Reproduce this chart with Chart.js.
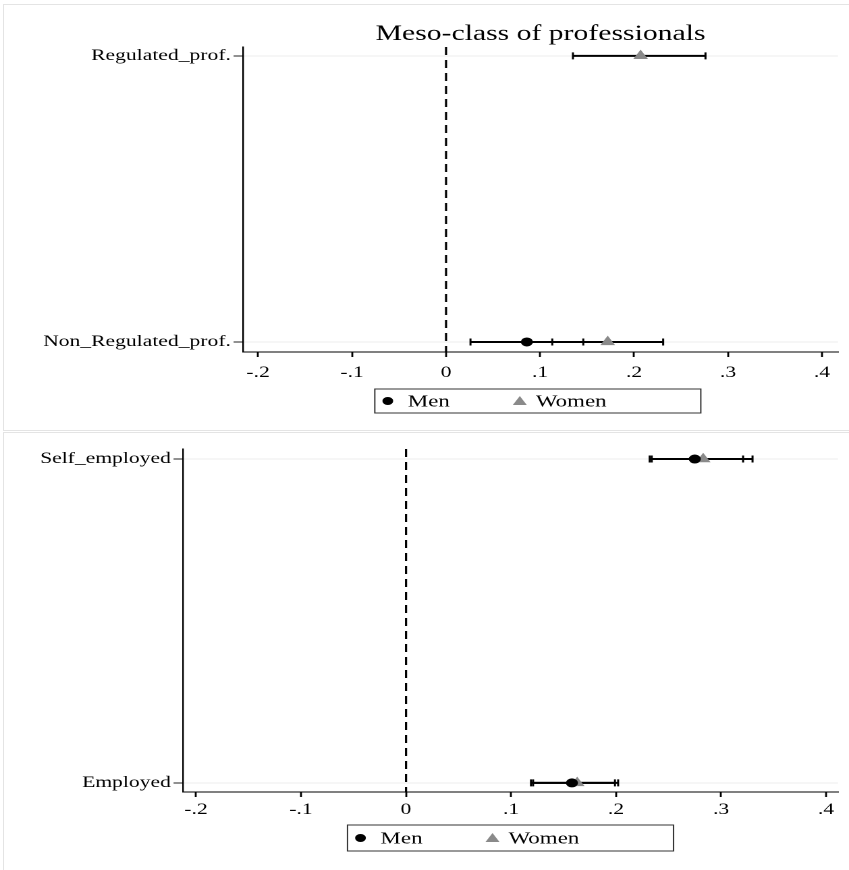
<!DOCTYPE html>
<html>
<head>
<meta charset="utf-8">
<title>Meso-class of professionals</title>
<script src="https://cdn.jsdelivr.net/npm/chart.js@4.4.1/dist/chart.umd.min.js"></script>
<style>
  html, body { margin: 0; padding: 0; background: #fff; }
  body { width: 849px; height: 870px; position: relative; overflow: hidden; }
  .frame { position: absolute; border: 1px solid #e4e4e4; box-sizing: border-box; }
  .stretch { position: absolute; left: 0; transform-origin: 0 0; }
</style>
</head>
<body>
<div class="frame" style="left:3px; top:4px; width:870px; height:427px;"></div>
<div class="frame" style="left:3px; top:432px; width:870px; height:460px;"></div>
<div class="stretch" id="wrapMeso" style="top:0;"><canvas id="meso"></canvas></div>
<div class="stretch" id="wrapEmp" style="top:432px;"><canvas id="emp"></canvas></div>

<script>
// ---- data ----
const seriesNames = ['Men', 'Women'];
const xTickValues = [-0.2, -0.1, 0, 0.1, 0.2, 0.3, 0.4];
const xTickLabels = ['-.2', '-.1', '0', '.1', '.2', '.3', '.4'];

const mesoTitle = 'Meso-class of professionals';
const mesoCategories = ['Regulated_prof.', 'Non_Regulated_prof.'];
const mesoMen      = [null, 0.086];
const mesoMenLow   = [null, 0.026];
const mesoMenHigh  = [null, 0.146];
const mesoWomen     = [0.207, 0.172];
const mesoWomenLow  = [0.135, 0.113];
const mesoWomenHigh = [0.276, 0.231];

const empCategories = ['Self_employed', 'Employed'];
const empMen      = [0.275, 0.158];
const empMenLow   = [0.232, 0.119];
const empMenHigh  = [0.321, 0.199];
const empWomen     = [0.283, 0.163];
const empWomenLow  = [0.234, 0.121];
const empWomenHigh = [0.330, 0.202];

// ---- drawing ----
const PAGE_W = 849;
const LOGICAL_W = 629;
const STRETCH = PAGE_W / LOGICAL_W;
const SERIF = '"Liberation Serif", "Times New Roman", serif';

function points(categories, vals, lows, highs) {
  const n = categories.length;
  const out = [];
  vals.forEach((v, i) => {
    if (v === null) return;
    out.push({ x: v, y: n - 1 - i, lo: lows[i], hi: highs[i] });
  });
  return out;
}

const zeroLine = {
  id: 'zeroLine',
  beforeDatasetsDraw(chart) {
    const { ctx, chartArea, scales } = chart;
    const px = scales.x.getPixelForValue(0);
    ctx.save();
    ctx.strokeStyle = '#000';
    ctx.lineWidth = 1.6;
    ctx.setLineDash([8, 5]);
    ctx.beginPath();
    ctx.moveTo(px, chartArea.top);
    ctx.lineTo(px, chartArea.bottom);
    ctx.stroke();
    ctx.restore();
  }
};

const errorBars = {
  id: 'errorBars',
  beforeDatasetsDraw(chart) {
    const { ctx, scales } = chart;
    ctx.save();
    ctx.strokeStyle = '#000';
    chart.data.datasets.forEach(ds => {
      ds.data.forEach(p => {
        const yp = scales.y.getPixelForValue(p.y);
        const x1 = scales.x.getPixelForValue(p.lo);
        const x2 = scales.x.getPixelForValue(p.hi);
        ctx.lineWidth = 2;
        ctx.beginPath();
        ctx.moveTo(x1, yp);
        ctx.lineTo(x2, yp);
        ctx.stroke();
        ctx.lineWidth = 1.5;
        ctx.beginPath();
        [x1, x2].forEach(xx => {
          ctx.moveTo(xx, yp - 3.5);
          ctx.lineTo(xx, yp + 3.5);
        });
        ctx.stroke();
      });
    });
    ctx.restore();
  }
};

const panelTitle = {
  id: 'panelTitle',
  afterDraw(chart, args, opts) {
    if (!opts.text) return;
    const { ctx, chartArea } = chart;
    ctx.save();
    ctx.fillStyle = '#000';
    ctx.font = '22px ' + SERIF;
    ctx.textAlign = 'center';
    ctx.textBaseline = 'middle';
    ctx.fillText(opts.text, (chartArea.left + chartArea.right) / 2, opts.y);
    ctx.restore();
  }
};

const boxedLegend = {
  id: 'boxedLegend',
  afterDraw(chart, args, opts) {
    const { ctx, chartArea } = chart;
    const left = (chartArea.left + chartArea.right) / 2 - opts.width / 2 + opts.shift;
    const top = chartArea.bottom + opts.gap;
    const mid = top + opts.height / 2;
    ctx.save();
    ctx.strokeStyle = '#333';
    ctx.lineWidth = 1;
    ctx.strokeRect(left, top, opts.width, opts.height);
    chart.data.datasets.forEach((ds, i) => {
      ctx.fillStyle = ds.backgroundColor;
      ctx.strokeStyle = ds.borderColor;
      ctx.lineWidth = 1;
      Chart.helpers.drawPoint(ctx, {
        pointStyle: ds.pointStyle, radius: ds.pointStyle === 'triangle' ? 5 : 3.5, rotation: 0, borderWidth: 1
      }, left + opts.markerAt[i], mid + (ds.pointStyle === 'triangle' ? 1 : 0));
      ctx.fillStyle = '#000';
      ctx.font = '17px ' + SERIF;
      ctx.textAlign = 'left';
      ctx.textBaseline = 'middle';
      ctx.fillText(ds.label, left + opts.textAt[i], mid + 1);
    });
    ctx.restore();
  }
};

function buildPanel(canvasId, wrapId, cfg) {
  const wrap = document.getElementById(wrapId);
  wrap.style.width = LOGICAL_W + 'px';
  wrap.style.height = cfg.height + 'px';
  wrap.style.transform = 'scaleX(' + STRETCH + ')';
  const canvas = document.getElementById(canvasId);
  canvas.width = LOGICAL_W;
  canvas.height = cfg.height;

  const n = cfg.categories.length;
  const datasets = [
    {
      label: seriesNames[0],
      data: points(cfg.categories, cfg.men, cfg.menLow, cfg.menHigh),
      pointStyle: 'circle', pointRadius: 4,
      backgroundColor: '#000', borderColor: '#000', borderWidth: 1
    },
    {
      label: seriesNames[1],
      data: points(cfg.categories, cfg.women, cfg.womenLow, cfg.womenHigh),
      pointStyle: 'triangle', pointRadius: 5.3,
      backgroundColor: '#8a8a8a', borderColor: '#8a8a8a', borderWidth: 1
    }
  ];

  return new Chart(canvas, {
    type: 'scatter',
    data: { datasets },
    plugins: [zeroLine, errorBars, panelTitle, boxedLegend],
    options: {
      responsive: false,
      animation: false,
      devicePixelRatio: 2,
      events: [],
      layout: { padding: { top: cfg.plotTop, right: LOGICAL_W - 838 / STRETCH, left: 0, bottom: 0 } },
      elements: { point: { hoverRadius: 4 } },
      plugins: {
        legend: { display: false },
        tooltip: { enabled: false },
        title: { display: false },
        panelTitle: { text: cfg.title, y: 34 },
        boxedLegend: {
          width: 326 / STRETCH, height: cfg.legendHeight, gap: cfg.legendGap, shift: cfg.legendShift,
          markerAt: [13 / STRETCH, 145 / STRETCH], textAt: [33 / STRETCH, 161 / STRETCH]
        }
      },
      scales: {
        x: {
          type: 'linear',
          position: 'bottom',
          min: cfg.xMin,
          max: cfg.xMax,
          afterBuildTicks: s => { s.ticks = xTickValues.map(v => ({ value: v })); },
          afterFit: s => { s.height = cfg.height - cfg.axisY; },
          grid: { drawOnChartArea: false, tickLength: 5, tickColor: '#000', tickWidth: 1.4 },
          border: { color: '#000', width: 1 },
          ticks: {
            autoSkip: false, maxRotation: 0, padding: cfg.xTickPad,
            color: '#000', font: { family: SERIF, size: 16 },
            callback: (v, i) => xTickLabels[i]
          }
        },
        y: {
          type: 'linear',
          min: cfg.yMin,
          max: cfg.yMax,
          afterBuildTicks: s => { s.ticks = cfg.categories.map((c, i) => ({ value: n - 1 - i })); },
          afterFit: s => { s.width = cfg.axisX / STRETCH; },
          grid: { color: '#ececec', lineWidth: 1, tickLength: 7, tickColor: '#222', tickWidth: 1 },
          border: { color: '#000', width: 1.2 },
          ticks: {
            autoSkip: false, padding: 2,
            color: '#000', font: { family: SERIF, size: 16 },
            callback: v => cfg.categories[n - 1 - v]
          }
        }
      }
    }
  });
}

buildPanel('meso', 'wrapMeso', {
  title: mesoTitle,
  categories: mesoCategories,
  men: mesoMen, menLow: mesoMenLow, menHigh: mesoMenHigh,
  women: mesoWomen, womenLow: mesoWomenLow, womenHigh: mesoWomenHigh,
  height: 430, plotTop: 47, axisY: 352, axisX: 243,
  xMin: -0.216, xMax: 0.417, yMin: -0.035, yMax: 1.031,
  xTickPad: 6, legendGap: 37, legendHeight: 24, legendShift: -2
});

buildPanel('emp', 'wrapEmp', {
  title: '',
  categories: empCategories,
  men: empMen, menLow: empMenLow, menHigh: empMenHigh,
  women: empWomen, womenLow: empWomenLow, womenHigh: empWomenHigh,
  height: 438, plotTop: 17, axisY: 360, axisX: 183,
  xMin: -0.2124, xMax: 0.4114, yMin: -0.028, yMax: 1.031,
  xTickPad: 3, legendGap: 33, legendHeight: 26, legendShift: 0
});
</script>
</body>
</html>
